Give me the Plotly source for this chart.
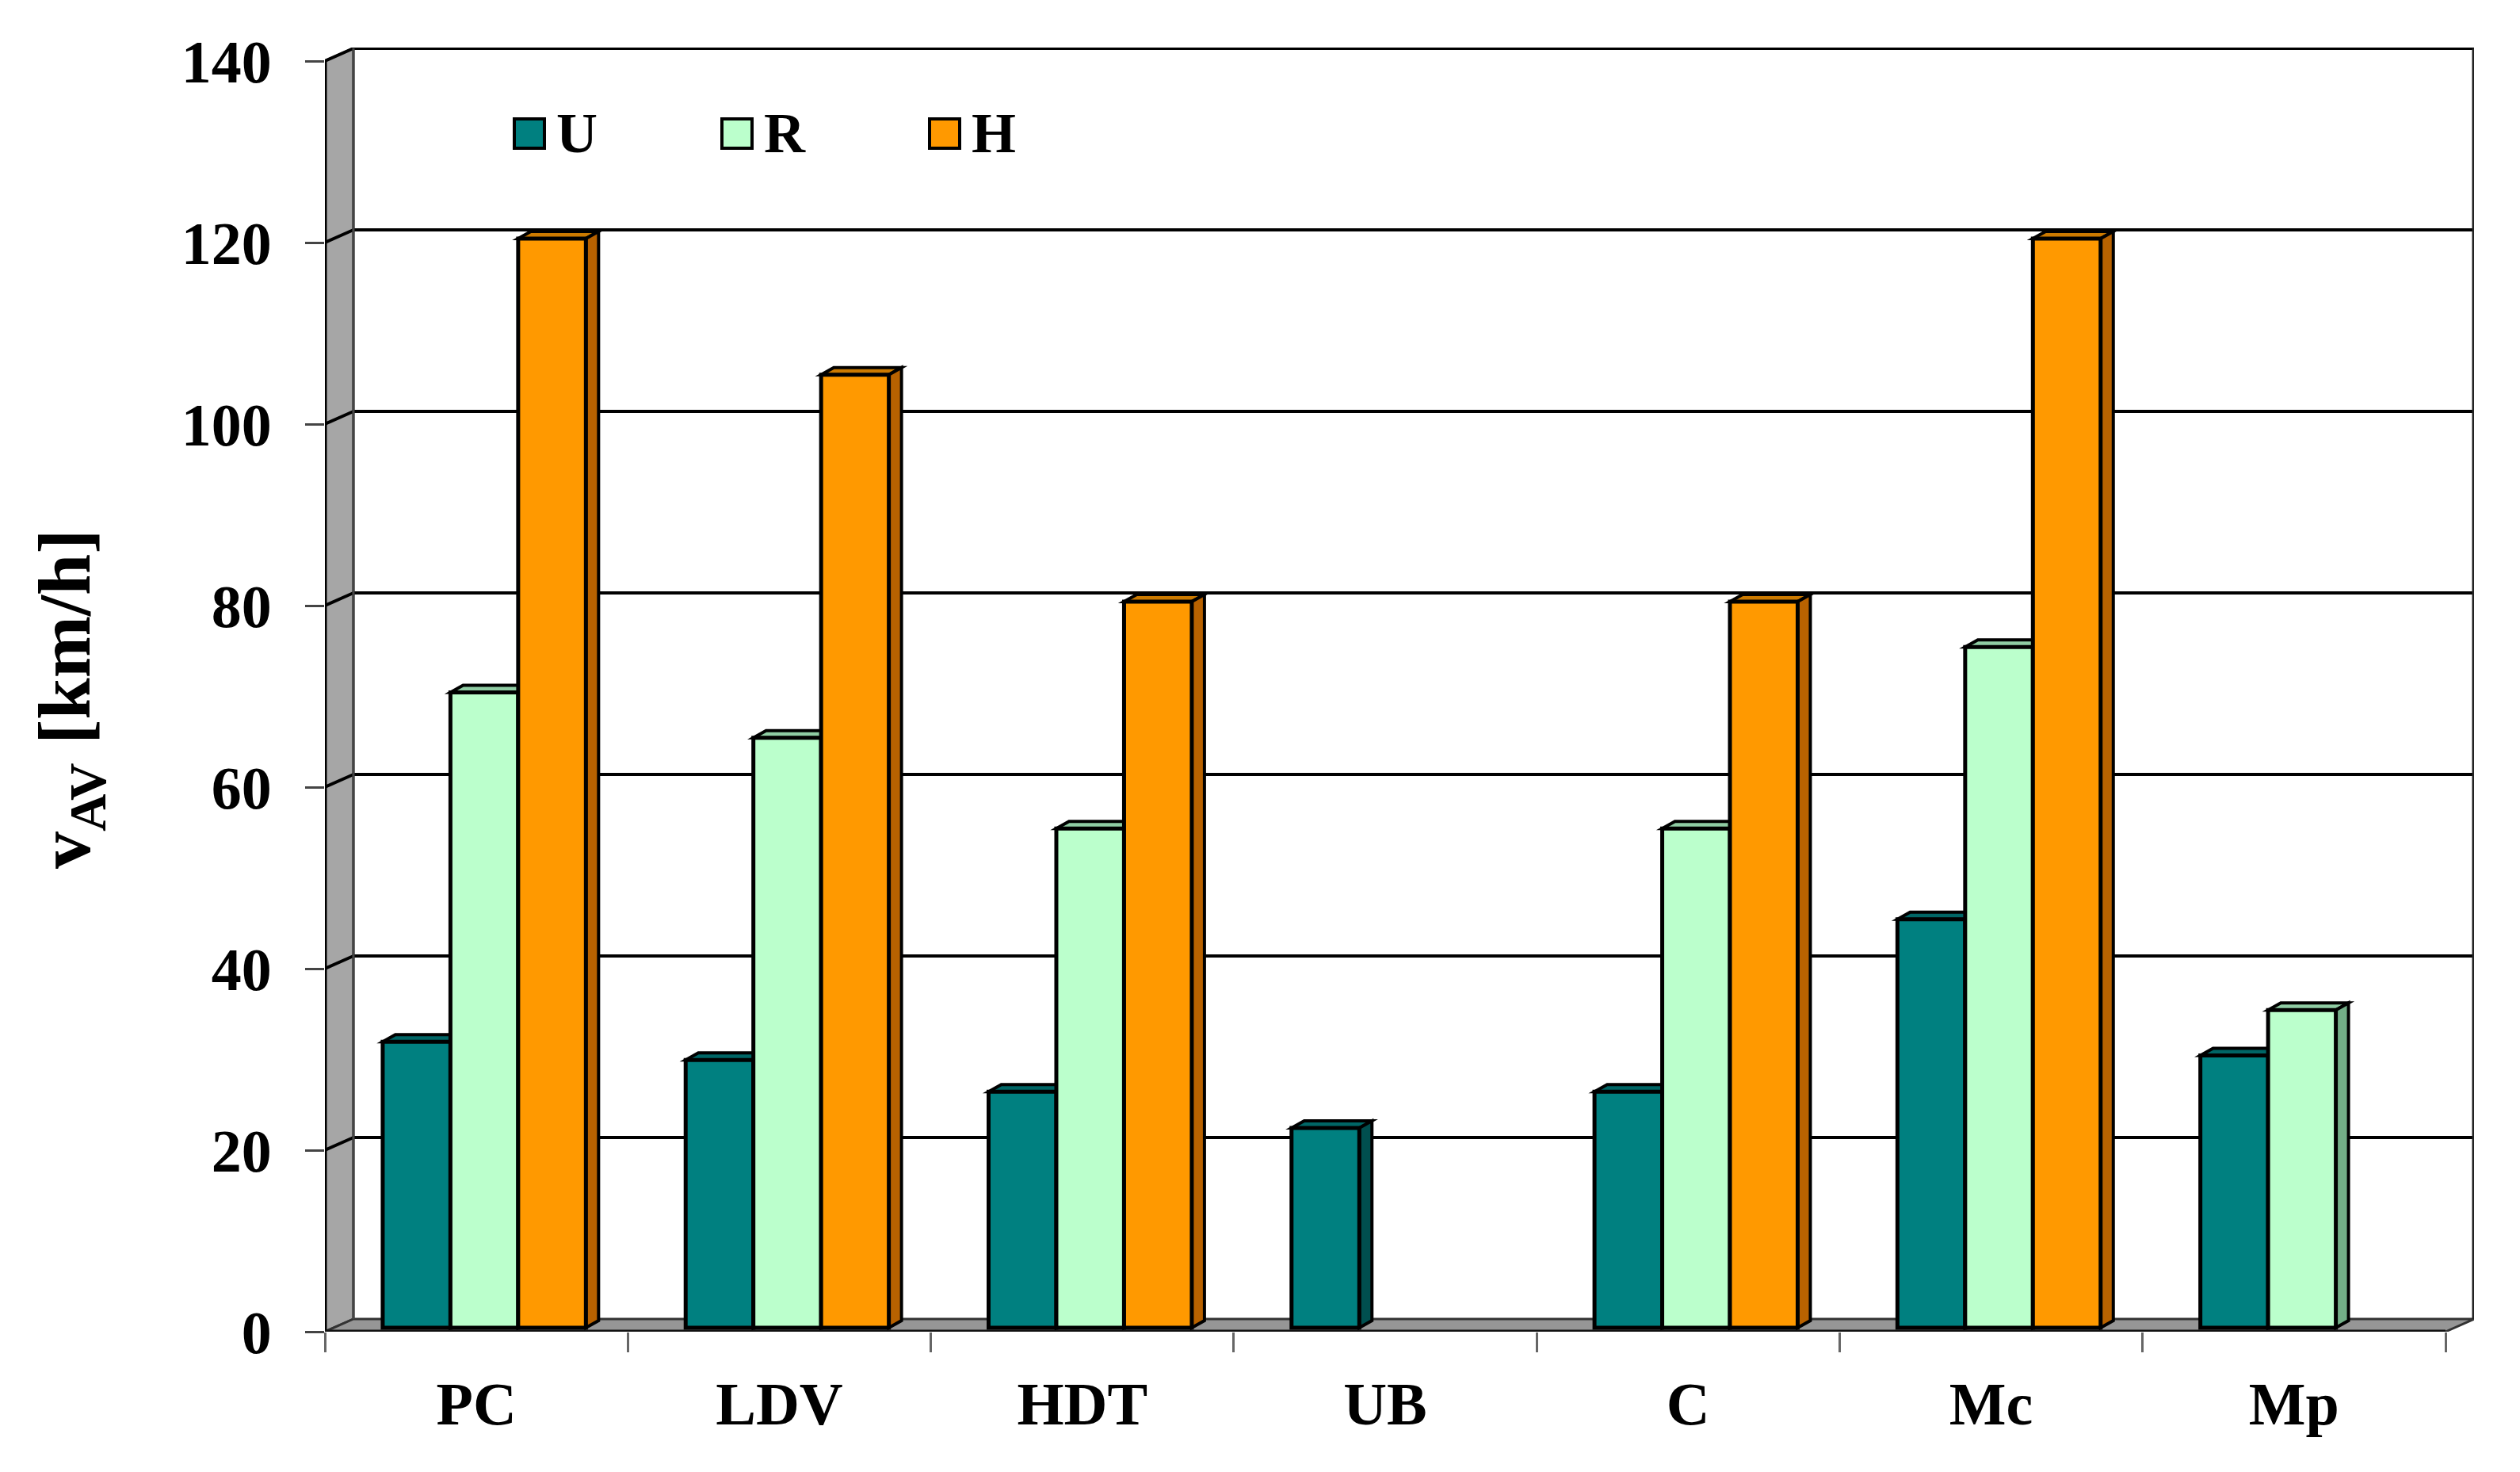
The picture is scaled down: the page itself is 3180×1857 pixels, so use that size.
import plotly.graph_objects as go

categories = ["PC", "LDV", "HDT", "UB", "C", "Mc", "Mp"]
series_names = ["U", "R", "H"]
u_values = [31.5, 29.5, 26, 22, 26, 45, 30]
r_values = [70, 65, 55, None, 55, 75, 35]
h_values = [120, 105, 80, None, 80, 120, None]
y_ticks = [0, 20, 40, 60, 80, 100, 120, 140]

front_colors = ["#008080", "#BBFFCC", "#FF9900"]
top_colors = ["#006666", "#8FCCA3", "#CC7A00"]
side_colors = ["#004F4F", "#73AE87", "#B86200"]

FONT = "Liberation Serif"
PAGE = 8  # the page's own margin round the figure
W, H = 3180 - 2 * PAGE, 1857 - 2 * PAGE
LEFT, RIGHT_BACK, TOP, BOTTOM = 410 - PAGE, 3122 - PAGE, 60 - PAGE, 1680 - PAGE
X_UNIT = (3087 - 410) / 7
Y_UNIT = 11.45
WALL_DX, WALL_DY = 36 / X_UNIT, 16 / Y_UNIT
BAR_DX, BAR_DY = 16 / X_UNIT, 9 / Y_UNIT
BAR_W = 85.5 / X_UNIT
GROUP_SHIFT = 10 / X_UNIT
BAR_BASE = 5 / Y_UNIT
X0, X1 = -0.5, 6.5
Y_TOP = (BOTTOM - TOP) / Y_UNIT


def poly(pts, fill, line="#000000", lw=4, layer="below"):
    path = "M" + " L".join(f"{x},{y}" for x, y in pts) + " Z"
    return dict(type="path", path=path, xref="x", yref="y", fillcolor=fill,
                line=dict(color=line, width=lw), layer=layer)


def seg(x0, y0, x1, y1, color="#000000", lw=4):
    return dict(type="line", x0=x0, y0=y0, x1=x1, y1=y1, xref="x", yref="y",
                line=dict(color=color, width=lw), layer="below")


shapes = []
shapes.append(poly([(X0, 0), (X0 + WALL_DX, WALL_DY), (X0 + WALL_DX, 140 + WALL_DY), (X0, 140)], "#A6A6A6", "#333333", 3))
shapes.append(poly([(X0, 0), (X1, 0), (X1 + WALL_DX, WALL_DY), (X0 + WALL_DX, WALL_DY)], "#969696", "#333333", 3))
for v in y_ticks[1:]:
    shapes.append(seg(X0 + WALL_DX, v + WALL_DY, X1 + WALL_DX, v + WALL_DY, "#000000", 4))
    shapes.append(seg(X0, v, X0 + WALL_DX, v + WALL_DY, "#000000", 4))
shapes.append(seg(X1 + WALL_DX, WALL_DY, X1 + WALL_DX, 140 + WALL_DY, "#222222", 5))
shapes.append(seg(X0, 0, X0, 140, "#000000", 5))
shapes.append(seg(X0 + WALL_DX, WALL_DY, X0 + WALL_DX, 140 + WALL_DY, "#444444", 3))
shapes.append(seg(X0, 0, X1, 0, "#111111", 5))

all_values = [u_values, r_values, h_values]
for s, vals in enumerate(all_values):
    off = (s - 1.5) * BAR_W + GROUP_SHIFT
    for i, v in enumerate(vals):
        if v is None:
            continue
        xl, xr = i + off, i + off + BAR_W
        top = v + BAR_BASE
        shapes.append(poly([(xl, top), (xl + BAR_DX, top + BAR_DY), (xr + BAR_DX, top + BAR_DY), (xr, top)],
                           top_colors[s], "#000000", 4, "between"))
        shapes.append(poly([(xr, BAR_BASE), (xr + BAR_DX, BAR_BASE + BAR_DY), (xr + BAR_DX, top + BAR_DY), (xr, top)],
                           side_colors[s], "#000000", 4, "between"))

fig = go.Figure()
for s, (name, vals) in enumerate(zip(series_names, all_values)):
    fig.add_trace(go.Bar(
        x=categories, y=vals, name=name, base=BAR_BASE, width=BAR_W,
        offset=(s - 1.5) * BAR_W + GROUP_SHIFT,
        marker=dict(color=front_colors[s], line=dict(color="#000000", width=5)),
        showlegend=False,
    ))


def px_x(x):
    return (x - PAGE - LEFT) / (RIGHT_BACK - LEFT)


def px_y(y):
    return 1 - (y - PAGE - TOP) / (BOTTOM - TOP)


annotations = []
legend_x = [649, 911, 1173]
for s, name in enumerate(series_names):
    shapes.append(dict(type="rect", xref="paper", yref="paper",
                       x0=px_x(legend_x[s]), x1=px_x(legend_x[s] + 38),
                       y0=px_y(187), y1=px_y(150),
                       fillcolor=front_colors[s], line=dict(color="#000000", width=4), layer="above"))
    annotations.append(dict(text=name, xref="paper", yref="paper", showarrow=False,
                            x=px_x(legend_x[s] + 51), y=px_y(168), xanchor="left", yanchor="middle",
                            font=dict(family=FONT, size=72, color="#000000", weight="bold")))

annotations.append(dict(text="v<sub>AV</sub> [km/h]", xref="paper", yref="paper", showarrow=False,
                        x=px_x(88), y=px_y(882), xanchor="center", yanchor="middle", textangle=-90,
                        font=dict(family=FONT, size=94, color="#000000", weight="bold")))

fig.update_layout(
    width=W, height=H, autosize=False,
    margin=dict(l=LEFT, r=W - RIGHT_BACK, t=TOP, b=H - BOTTOM, pad=0),
    paper_bgcolor="#FFFFFF", plot_bgcolor="#FFFFFF",
    barmode="group", shapes=shapes, annotations=annotations, showlegend=False,
    xaxis=dict(type="category", categoryorder="array", categoryarray=categories,
               range=[X0, X1 + WALL_DX], tickson="boundaries", ticks="outside", ticklen=25,
               tickwidth=3, tickcolor="#666666", showline=False, showgrid=False, zeroline=False,
               ticklabelstandoff=40,
               tickfont=dict(family=FONT, size=76, color="#000000", weight="bold")),
    yaxis=dict(range=[0, Y_TOP], tickmode="array", tickvals=y_ticks,
               ticktext=[str(v) for v in y_ticks], ticks="outside", ticklen=24, tickwidth=3,
               tickcolor="#444444", showline=False, showgrid=False, zeroline=False,
               ticklabelstandoff=27,
               tickfont=dict(family=FONT, size=76, color="#000000", weight="bold")),
)
fig.write_html("out.html")
